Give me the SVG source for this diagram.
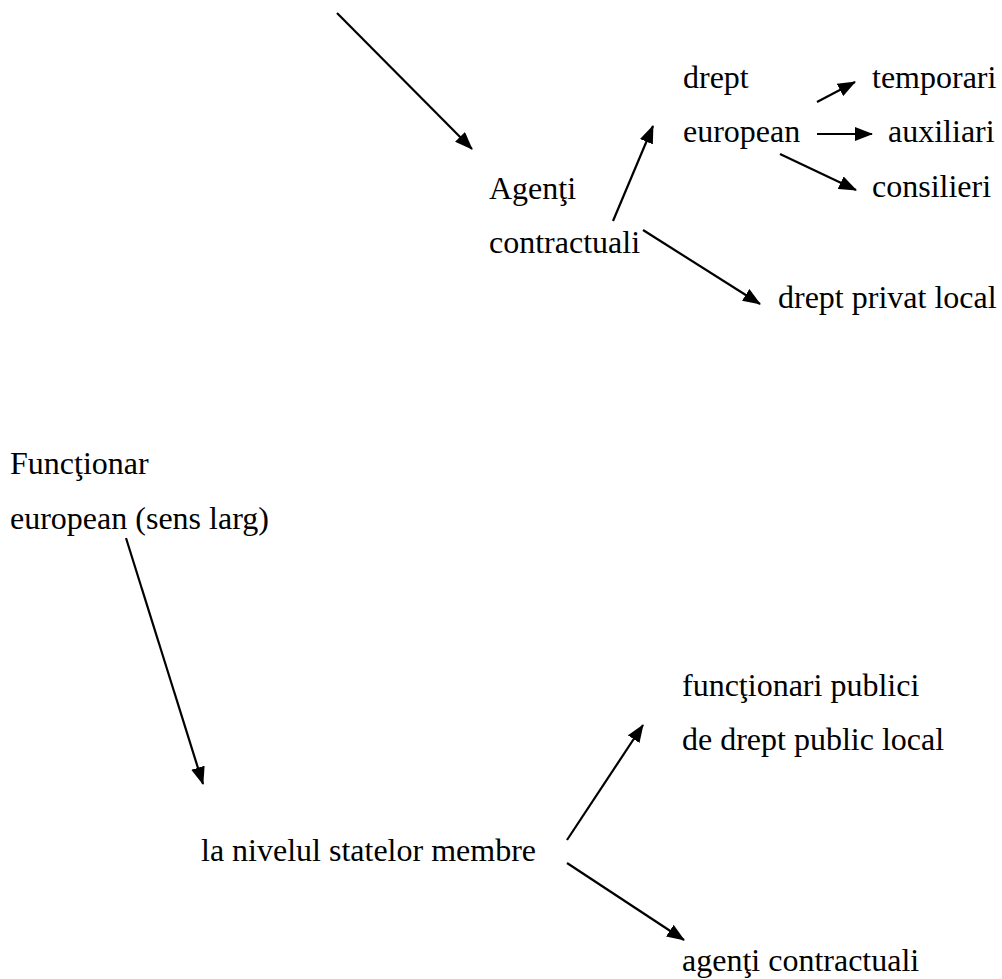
<svg xmlns="http://www.w3.org/2000/svg" width="1002" height="979" viewBox="0 0 1002 979">
<style>
text{font-family:"Liberation Serif","Times New Roman",serif;font-size:32px;fill:#000}
.c line{stroke:#000;stroke-width:2.2;fill:none;marker-end:url(#ah)}
</style>
<defs>
<marker id="ah" markerUnits="userSpaceOnUse" viewBox="0 0 18 14" refX="17" refY="7" markerWidth="18" markerHeight="14" orient="auto">
<path d="M0,0 L18,7 L0,14 Z" fill="#000"/>
</marker>
</defs>
<rect width="1002" height="979" fill="#fff"/>
<g id="agenti"><text x="489" y="199">Agenţi</text><text x="489" y="253">contractuali</text></g>
<g id="drept-european"><text x="683" y="88">drept</text><text x="683" y="142">european</text></g>
<g id="temporari"><text x="872" y="88">temporari</text></g>
<g id="auxiliari"><text x="888" y="142">auxiliari</text></g>
<g id="consilieri"><text x="872" y="197">consilieri</text></g>
<g id="drept-privat"><text x="778" y="308">drept privat local</text></g>
<g id="functionar"><text x="10" y="474">Funcţionar</text><text x="10" y="529">european (sens larg)</text></g>
<g id="nivel-state"><text x="201" y="861">la nivelul statelor membre</text></g>
<g id="functionari-publici"><text x="682" y="696">funcţionari publici</text><text x="682" y="750">de drept public local</text></g>
<g id="agenti-contractuali"><text x="682" y="971">agenţi contractuali</text></g>
<g class="c" id="connectors">
<line x1="337" y1="13" x2="472" y2="149"/>
<line x1="613" y1="221" x2="653" y2="126"/>
<line x1="817" y1="102" x2="855" y2="82"/>
<line x1="817" y1="134" x2="872" y2="134"/>
<line x1="780" y1="154" x2="856" y2="190"/>
<line x1="643" y1="230" x2="760" y2="304"/>
<line x1="126" y1="538" x2="203" y2="784"/>
<line x1="567" y1="840" x2="643" y2="725"/>
<line x1="567" y1="863" x2="684" y2="940"/>
</g>
</svg>
